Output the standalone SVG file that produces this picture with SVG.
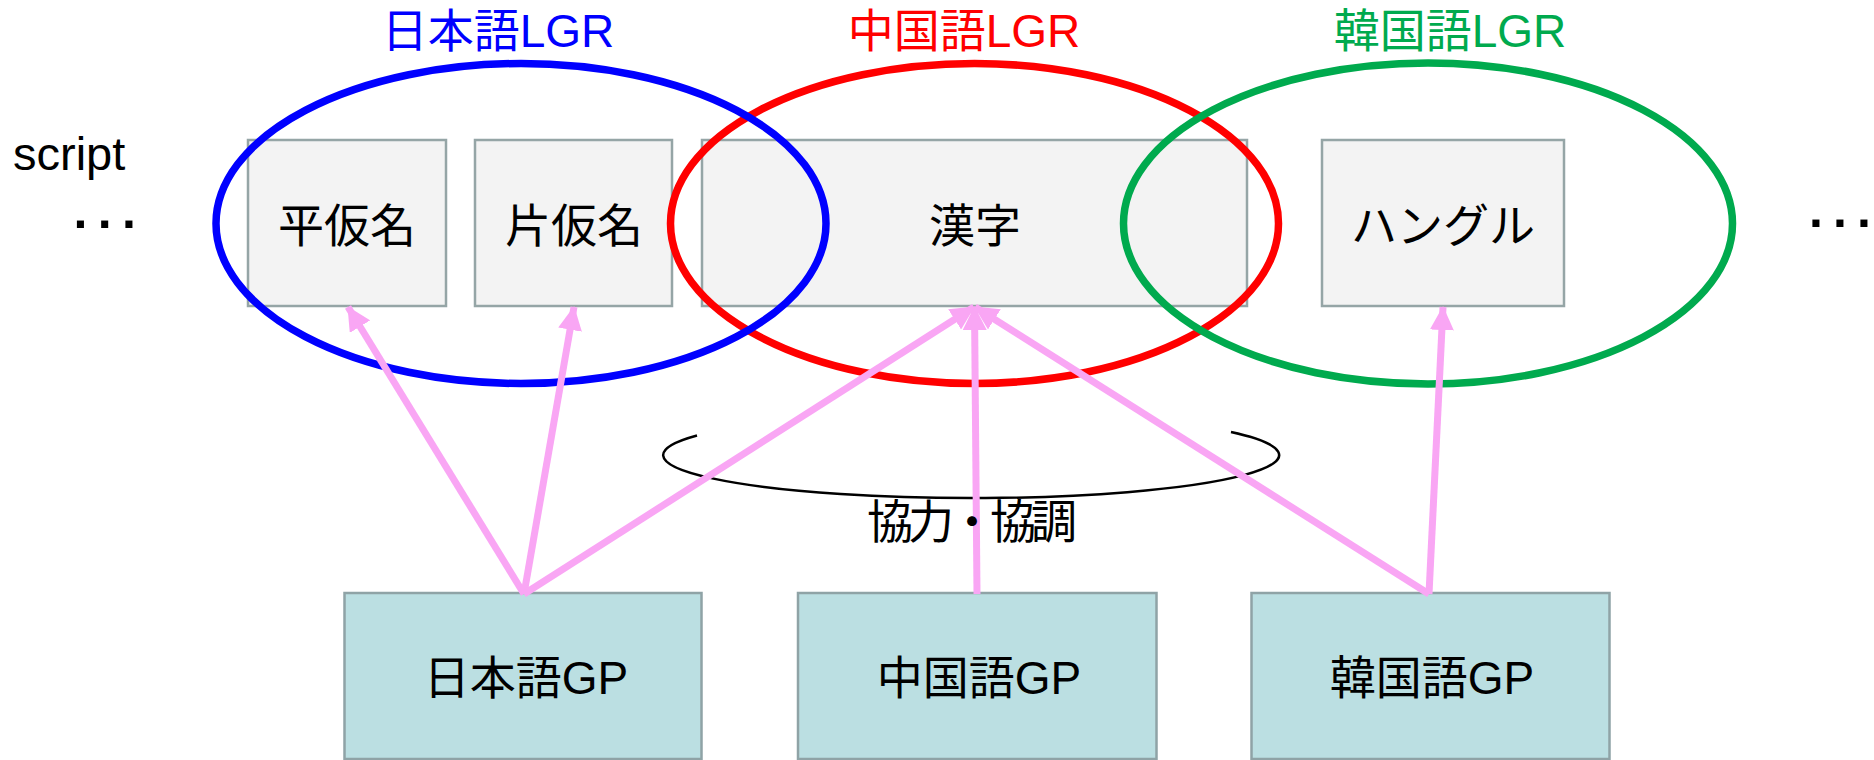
<svg xmlns="http://www.w3.org/2000/svg" width="1874" height="760" viewBox="0 0 1874 760">
<style>
  text { font-family: "Liberation Sans", "Noto Sans CJK JP", sans-serif; fill: #000; }
  .t { font-size: 46px; text-anchor: middle; }
  .dots { font-size: 50px; font-weight: bold; }
  .script { fill: #f3f3f3; stroke: #95a5a6; stroke-width: 2.5; }
  .gp { fill: #bbdfe2; stroke: #8fa3a6; stroke-width: 2.5; }
  .lgr { fill: none; stroke-width: 7.5; }
  .arrow { fill: none; stroke: #f9a6f4; stroke-width: 7; marker-end: url(#ah); }
</style>
<defs>
  <marker id="ah" markerUnits="userSpaceOnUse" markerWidth="24" markerHeight="24" viewBox="0 0 24 24" refX="23" refY="12" orient="auto">
    <path d="M0,0 L24,12 L0,24 z" fill="#f9a6f4"/>
  </marker>
</defs>
<rect width="1874" height="760" fill="#fff"/>

<text x="13" y="170" style="font-size:47px">script</text>
<text class="dots" x="73.5 97.7 121.9" y="228">...</text>
<text class="dots" x="1809 1833 1857" y="226.5">...</text>

<g id="hiragana"><rect class="script" x="248" y="140" width="198" height="166"/><text class="t" x="347" y="242">平仮名</text></g>
<g id="katakana"><rect class="script" x="475" y="140" width="197" height="166"/><text class="t" x="574" y="242">片仮名</text></g>
<g id="kanji"><rect class="script" x="702" y="140" width="545" height="166"/><text class="t" x="975" y="242">漢字</text></g>
<g id="hangul"><rect class="script" x="1322" y="140" width="242" height="166"/><text class="t" x="1443" y="242">ハングル</text></g>

<g id="zh-lgr"><ellipse class="lgr" cx="974.5" cy="223.5" rx="304" ry="160" stroke="#ff0000"/><text class="t" x="964" y="47" style="fill:#ff0000">中国語LGR</text></g>
<g id="ja-lgr"><ellipse class="lgr" cx="521" cy="223.5" rx="305" ry="160" stroke="#0000ff"/><text class="t" x="498" y="47" style="fill:#0000ff">日本語LGR</text></g>
<g id="ko-lgr"><ellipse class="lgr" cx="1428" cy="223.5" rx="304.5" ry="160.5" stroke="#00aa4e"/><text class="t" x="1450" y="47" style="fill:#00aa4e">韓国語LGR</text></g>

<g id="ja-gp"><rect class="gp" x="344.5" y="593" width="357" height="166"/><text class="t" x="526" y="694">日本語GP</text></g>
<g id="zh-gp"><rect class="gp" x="798" y="593" width="358.5" height="166"/><text class="t" x="979" y="694">中国語GP</text></g>
<g id="ko-gp"><rect class="gp" x="1251.5" y="593" width="358" height="166"/><text class="t" x="1432" y="694">韓国語GP</text></g>

<g id="coordination">
  <path d="M697,435.5 A308,43 0 1 0 1231,432" fill="none" stroke="#000" stroke-width="2.5"/>
</g>

<g id="connectors">
  <line class="arrow" x1="524" y1="594" x2="348" y2="307"/>
  <line class="arrow" x1="524" y1="594" x2="574" y2="307"/>
  <line class="arrow" x1="524" y1="594" x2="974" y2="307"/>
  <line class="arrow" x1="977" y1="594" x2="974.5" y2="307"/>
  <line class="arrow" x1="1429" y1="594" x2="975" y2="307"/>
  <line class="arrow" x1="1429" y1="594" x2="1443" y2="307"/>
</g>

<text class="t" x="972" y="538" textLength="210" lengthAdjust="spacing">協力・協調</text>
</svg>
